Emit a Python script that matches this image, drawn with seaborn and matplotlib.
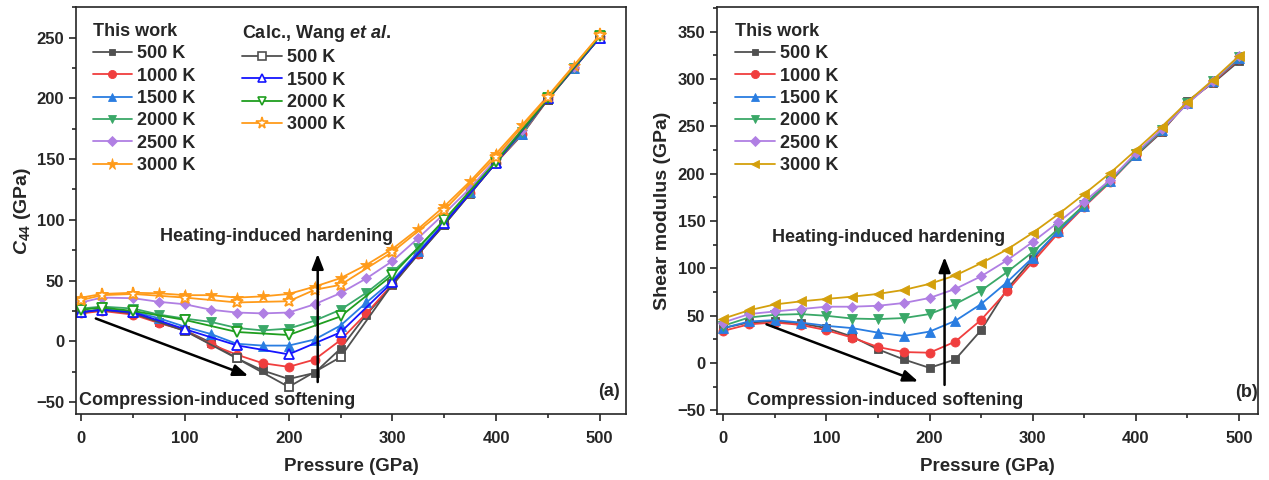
import numpy as np
import pandas as pd
import seaborn as sns
import matplotlib.pyplot as plt
from matplotlib.lines import Line2D
from matplotlib.ticker import MultipleLocator

# --- data ---
# (a) C44, this work
p_a = [0, 20, 50, 75, 100, 125, 150, 175, 200, 225, 250, 275, 300,
       325, 350, 375, 400, 425, 450, 475, 500]
c44_500 = [24, 26, 23, 16, 9, -1, -14, -24, -31, -26, -6, 22, 46,
           72, 96, 121.5, 147, 170, 199, 224.5, 250]
c44_1000 = [23, 25, 22, 15, 9, -2.5, -11, -18, -21, -15, 1, 23, 47,
            72, 96.5, 122, 147, 170.5, 199.5, 225, 250]
c44_1500 = [24, 26.4, 24.5, 19, 12, 6, -2, -3.5, -3.5, 1.5, 13, 32, 50,
            74, 97.5, 122.5, 147.5, 171, 200, 225, 250]
c44_2000 = [27, 28.6, 27, 22, 18.7, 16, 11, 9, 10.5, 17, 26, 40, 56.8,
            77, 99, 123, 148, 172, 200, 225, 251]
c44_2500 = [32, 36, 35.5, 32.5, 30.5, 26, 23.7, 23, 23.7, 30.5, 39.7, 51.8, 66,
            85, 105, 126, 150, 174, 201, 226, 251]
c44_3000 = [36, 39, 40, 39.5, 38, 38, 36, 37, 39, 45, 52, 63, 76,
            92.6, 111, 131.7, 154.5, 178, 202, 227, 252]

# (a) C44, Wang et al.
p_w = [0, 20, 50, 100, 150, 200, 250, 300, 350, 400, 450, 500]
w_500 = [24, 26, 23, 8.5, -14, -37.5, -13, 47, 96, 147, 199, 250]
w_1500 = [24, 26, 24, 10, -3.3, -10.7, 7.4, 48.6, 97, 147, 200, 250]
w_2000 = [26, 27.8, 25, 17.6, 7.7, 5.2, 20.5, 54.5, 100, 148, 200, 251]
p_w3000 = [0, 20, 50, 100, 150, 200, 225, 250, 300, 350, 400, 450, 500]
w_3000 = [34, 38, 39, 36, 32, 33, 42.4, 46.5, 73.5, 108, 152, 201, 252]

# (b) shear modulus, this work
p_b = [0, 25, 50, 75, 100, 125, 150, 175, 200, 225, 250, 275, 300,
       325, 350, 375, 400, 425, 450, 475, 500]
g_500 = [37, 43, 44, 42, 37, 28, 14.6, 3.9, -5, 3.9, 34.8, 78, 110,
         140, 167, 193, 219, 244, 277, 296, 319]
g_1000 = [34, 41, 42.9, 40.4, 34.8, 27, 17, 11.7, 11, 22.7, 45.7, 75.9, 106.7,
          137.6, 165.2, 191, 220, 245, 275, 297, 321]
g_1500 = [37, 44, 45.4, 42.9, 39.4, 37, 32.2, 28.7, 33.3, 44.7, 62.4, 85.4, 111.4,
          139.7, 166, 192, 220, 246, 275, 298, 322]
g_2000 = [39.4, 48.2, 51, 51.8, 50, 47.1, 46.5, 47.6, 51.8, 62.4, 76.6, 96, 117.3,
          142, 167, 192, 221, 246, 275, 298, 323]
g_2500 = [42.9, 51.8, 54.6, 57.1, 59.6, 59.6, 60.6, 63.5, 68.8, 78.4, 91.7, 108.5, 128,
          149, 170.6, 193.6, 222, 247, 274, 298, 324]
g_3000 = [47, 55.8, 62, 65.2, 67.8, 70.2, 73.1, 77.3, 83.7, 92.6, 105.6, 119.9, 137.6,
          157.4, 178.7, 200.7, 225, 249.7, 275.9, 299.5, 324.5]

temps = ['500 K', '1000 K', '1500 K', '2000 K', '2500 K', '3000 K']
markers = ['s', 'o', '^', 'v', 'D', '*']
colors_a = ['#505050', '#f03e3e', '#2a7de1', '#3aa868', '#b07fe3', '#ff9b1a']
colors_b = ['#505050', '#f03e3e', '#2a7de1', '#3aa868', '#b07fe3', '#d4a00c']
sizes = [5.5, 6.5, 6.5, 6.5, 5.5, 9]

wang_labels = ['500 K', '1500 K', '2000 K', '3000 K']
wang_markers = ['s', '^', 'v', '*']
wang_colors = ['#505050', '#1515ff', '#1f9e1f', '#ff9b1a']
wang_sizes = [6, 7, 7, 9.5]

b_markers = ['s', 'o', '^', 'v', 'D', '<']
b_sizes = [5.5, 6.5, 6.5, 6.5, 5.5, 6.5]

# --- style ---
sns.set_style("ticks")
plt.rcParams['font.family'] = ['Liberation Sans', 'DejaVu Sans']
plt.rcParams['font.weight'] = 'bold'
plt.rcParams['axes.labelweight'] = 'bold'
plt.rcParams['mathtext.fontset'] = 'custom'
plt.rcParams['mathtext.rm'] = 'Liberation Sans:bold'
plt.rcParams['mathtext.bf'] = 'Liberation Sans:bold'
plt.rcParams['mathtext.it'] = 'Liberation Sans:bold:italic'
plt.rcParams['axes.linewidth'] = 1.2

fig = plt.figure(figsize=(12.69, 4.8), dpi=100)
ax1 = fig.add_axes([0.060, 0.137, 0.433, 0.848])
ax2 = fig.add_axes([0.565, 0.137, 0.426, 0.848])


def draw(ax, x, y, color, marker, ms, open_=False):
    sns.lineplot(x=x, y=y, ax=ax, color=color, marker=marker, markersize=ms,
                 linewidth=1.3,
                 markerfacecolor='white' if open_ else color,
                 markeredgecolor=color,
                 markeredgewidth=1.3 if open_ else 0.6)


series_a = [c44_500, c44_1000, c44_1500, c44_2000, c44_2500, c44_3000]
series_b = [g_500, g_1000, g_1500, g_2000, g_2500, g_3000]
series_w = [(p_w, w_500), (p_w, w_1500), (p_w, w_2000), (p_w3000, w_3000)]

for y, c, m, s in zip(series_a, colors_a, markers, sizes):
    draw(ax1, p_a, y, c, m, s)
for (x, y), c, m, s in zip(series_w, wang_colors, wang_markers, wang_sizes):
    draw(ax1, x, y, c, m, s, open_=True)
for y, c, m, s in zip(series_b, colors_b, b_markers, b_sizes):
    draw(ax2, p_b, y, c, m, s)


def handles(labels, cols, mks, mss, open_=False):
    return [Line2D([], [], color=c, marker=m, markersize=s * 0.9, linewidth=1.3,
                   markerfacecolor='white' if open_ else c, markeredgecolor=c,
                   markeredgewidth=1.2 if open_ else 0.6, label=l)
            for l, c, m, s in zip(labels, cols, mks, mss)]


leg_kw = dict(frameon=False, fontsize=13, title_fontsize=13, alignment='left',
              handlelength=2.2, handletextpad=0.28, labelspacing=0.3,
              borderaxespad=0, borderpad=0)

leg1 = ax1.legend(handles=handles(temps, colors_a, markers, sizes),
                  title='This work', loc='upper left',
                  bbox_to_anchor=(0.03, 0.962), **leg_kw)
ax1.add_artist(leg1)
ax1.legend(handles=handles(wang_labels, wang_colors, wang_markers, wang_sizes, True),
           title=r'Calc., Wang $et\ al.$', loc='upper left',
           bbox_to_anchor=(0.302, 0.962), **leg_kw)
ax2.legend(handles=handles(temps, colors_b, b_markers, b_sizes),
           title='This work', loc='upper left',
           bbox_to_anchor=(0.033, 0.962), **leg_kw)

arrow = dict(arrowstyle='-|>,head_length=0.9,head_width=0.35', color='black', lw=1.8,
             shrinkA=0, shrinkB=0)

# annotations (a)
ax1.annotate('', xy=(228, 72), xytext=(228, -33.5), arrowprops=arrow)
ax1.annotate('', xy=(161, -28.4), xytext=(14, 18.8), arrowprops=arrow)
ax1.text(188, 86, 'Heating-induced hardening', ha='center', va='center', fontsize=13)
ax1.text(131, -48.3, 'Compression-induced softening', ha='center', va='center', fontsize=13)
ax1.text(509, -41.5, '(a)', ha='center', va='center', fontsize=13)

# annotations (b)
ax2.annotate('', xy=(214.6, 112), xytext=(214.6, -23), arrowprops=arrow)
ax2.annotate('', xy=(189, -19.4), xytext=(42, 41), arrowprops=arrow)
ax2.text(160, 133, 'Heating-induced hardening', ha='center', va='center', fontsize=13)
ax2.text(157, -40, 'Compression-induced softening', ha='center', va='center', fontsize=13)
ax2.text(507, -31.4, '(b)', ha='center', va='center', fontsize=13)

ax1.set_xlim(-5, 525)
ax1.set_ylim(-60, 275)
ax2.set_xlim(-6, 518)
ax2.set_ylim(-54, 376)

for ax in (ax1, ax2):
    ax.xaxis.set_major_locator(MultipleLocator(100))
    ax.xaxis.set_minor_locator(MultipleLocator(50))
    ax.yaxis.set_major_locator(MultipleLocator(50))
    ax.yaxis.set_minor_locator(MultipleLocator(25))
    ax.tick_params(which='major', direction='out', length=5, width=1.2, labelsize=12)
    ax.tick_params(which='minor', direction='out', length=3, width=1.2)
    ax.tick_params(axis='x', which='major', pad=7)
    ax.set_xlabel('Pressure (GPa)', fontsize=13.5, labelpad=9)
    for sp in ax.spines.values():
        sp.set_visible(True)
        sp.set_linewidth(1.2)

ax1.set_ylabel(r'$C_{44}$ (GPa)', fontsize=14, labelpad=2)
ax2.set_ylabel('Shear modulus (GPa)', fontsize=14, labelpad=4)

fig.savefig('out.png', dpi=100)
